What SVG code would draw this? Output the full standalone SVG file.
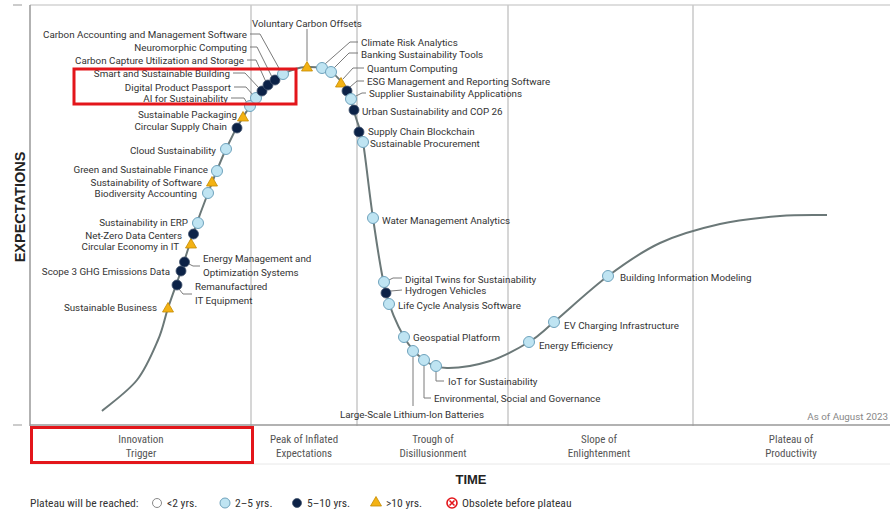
<svg xmlns="http://www.w3.org/2000/svg" xmlns:xlink="http://www.w3.org/1999/xlink" width="890" height="510" viewBox="0 0 890 510">
<style>
.lbl{font-family:Roboto,"Liberation Sans",sans-serif;font-size:9.8px;fill:#333}
.end{text-anchor:end}
.mid{text-anchor:middle}
.ph{font-family:"Liberation Sans Narrow","Roboto Condensed",Roboto,sans-serif;font-size:11px;fill:#555;text-anchor:middle}
.leg{font-family:"Liberation Sans Narrow","Roboto Condensed",Roboto,sans-serif;font-size:11.6px;fill:#333}
.ax{font-family:"Liberation Sans",Arial,sans-serif;font-weight:bold;fill:#222}
.lb{fill:#bfe4f2;stroke:#6fa3bd;stroke-width:1}
.nv{fill:#0c2247;stroke:#44566f;stroke-width:0.8}
.tr{fill:#f3b214;stroke:#c48a00;stroke-width:0.8}
.ld{fill:none;stroke:#7a7a7a;stroke-width:1}
.grid{stroke:#c9c9c9;stroke-width:1.5}
.red{fill:none;stroke:#e3161b;stroke-width:3}
</style>
<defs>
<path id="tri" d="M0,-5.5 L5.5,4 L-5.5,4 Z"/>
</defs>
<rect width="890" height="510" fill="#ffffff"/>
<g id="frame">
<line x1="30" y1="5" x2="890" y2="5" stroke="#dedede" stroke-width="2"/>
<line class="grid" x1="251" y1="5" x2="251" y2="426"/>
<line class="grid" x1="357" y1="5" x2="357" y2="426"/>
<line class="grid" x1="508" y1="5" x2="508" y2="426"/>
<line class="grid" x1="693" y1="5" x2="693" y2="426"/>
<line x1="30" y1="5" x2="30" y2="426" stroke="#999" stroke-width="1.5"/>
<line x1="30" y1="425" x2="890" y2="425" stroke="#999" stroke-width="1.5"/>
<line x1="13" y1="5" x2="22" y2="5" stroke="#aaa" stroke-width="1.2"/>
<line x1="13" y1="425" x2="22" y2="425" stroke="#aaa" stroke-width="1.2"/>
<line x1="30" y1="464" x2="890" y2="464" stroke="#e8e8e8" stroke-width="1"/>
<text class="ax" x="20" y="207" font-size="14.5" text-anchor="middle" transform="rotate(-90 20 207)" dy="5">EXPECTATIONS</text>
<text class="ax" x="471" y="484" font-size="13" text-anchor="middle">TIME</text>
<text class="lbl end" x="888" y="420" style="fill:#888">As of August 2023</text>
</g>
<g id="phases">
<text class="ph" x="141" y="443">Innovation</text><text class="ph" x="141" y="457">Trigger</text>
<text class="ph" x="304" y="443">Peak of Inflated</text><text class="ph" x="304" y="457">Expectations</text>
<text class="ph" x="433" y="443">Trough of</text><text class="ph" x="433" y="457">Disillusionment</text>
<text class="ph" x="599" y="443">Slope of</text><text class="ph" x="599" y="457">Enlightenment</text>
<text class="ph" x="791" y="443">Plateau of</text><text class="ph" x="791" y="457">Productivity</text>
</g>
<g id="curve">
<path d="M102,411 C107.8,405.8 127.7,391.8 137,380 C146.3,368.2 152.8,352 158,340 C163.2,328 164.2,319.5 168,308 C171.8,296.5 176.8,283.3 181,271 C185.2,258.7 188.5,247 193,234 C197.5,221 202.5,207.2 208,193 C213.5,178.8 220.2,161.7 226,149 C231.8,136.3 237,126.7 243,117 C249,107.3 255.3,98.2 262,91 C268.7,83.8 275.5,78 283,74 C290.5,70 299,67.3 307,67 C315,66.7 324.3,68 331,72 C337.7,76 342.8,83.3 347,91 C351.2,98.7 353.3,109.5 356,118 C358.7,126.5 360.6,129.3 363,142 C365.8,158.7 369.2,192.8 373,218 C376.8,243.2 380.8,273.2 386,293 C391.2,312.8 397.7,325.8 404,337 C410.3,348.2 416.8,354.8 424,360 C431.2,365.2 436,367.8 447,368 C458,368.2 476.3,365.3 490,361 C503.7,356.7 518.3,348.5 529,342 C539.7,335.5 540.8,333 554,322 C567.2,311 590.3,289.2 608,276 C625.7,262.8 641.3,251.7 660,243 C678.7,234.3 700,228.5 720,224 C740,219.5 762.2,217.5 780,216 C797.8,214.5 819.2,215.2 827,215" fill="none" stroke="#6b7878" stroke-width="2"/>
</g>
<g id="connectors">
<polyline class="ld" points="307,61 307,29"/>
<polyline class="ld" points="250,34 260,34 280,70"/>
<polyline class="ld" points="250,47 257,47 272,77"/>
<polyline class="ld" points="247,60 256,60 266,82"/>
<polyline class="ld" points="233,73 245,73 259,88"/>
<polyline class="ld" points="234,87 246,87 253,95"/>
<polyline class="ld" points="231,98 244,98 247,103"/>
<polyline class="ld" points="325,64 350,42 358,42"/>
<polyline class="ld" points="334,68 349,53 358,53"/>
<polyline class="ld" points="343,79 353,68 364,68"/>
<polyline class="ld" points="350,87 357,81 364,81"/>
<polyline class="ld" points="356,96 362,93 366,93"/>
<polyline class="ld" points="389,280 393,278 402,278"/>
<polyline class="ld" points="391,291 402,290"/>
<polyline class="ld" points="436,371 436,381 444,381"/>
<polyline class="ld" points="424,365 424,398 431,398"/>
<polyline class="ld" points="413,356 413,406"/>
<polyline class="ld" points="189,264 193,266 200,266"/>
<polyline class="ld" points="179,289 183,294 192,294"/>
</g>
<g id="n-sustainable-business"><use xlink:href="#tri" href="#tri" class="tr" x="168" y="308"/><text class="lbl end" x="157" y="311">Sustainable Business</text></g>
<g id="n-remanufactured"><circle class="nv" cx="177" cy="285" r="5"/><text class="lbl" x="195" y="290">Remanufactured</text><text class="lbl" x="195" y="304">IT Equipment</text></g>
<g id="n-scope3"><circle class="nv" cx="181" cy="271" r="5"/><text class="lbl end" x="170" y="274.5">Scope 3 GHG Emissions Data</text></g>
<g id="n-energy-mgmt"><circle class="nv" cx="184.5" cy="262" r="5"/><text class="lbl" x="203" y="261.5">Energy Management and</text><text class="lbl" x="203" y="275.5">Optimization Systems</text></g>
<g id="n-circular-economy"><use xlink:href="#tri" href="#tri" class="tr" x="191" y="244"/><text class="lbl end" x="179" y="249.5">Circular Economy in IT</text></g>
<g id="n-netzero"><circle class="nv" cx="193.5" cy="234" r="5"/><text class="lbl end" x="182" y="238.5">Net-Zero Data Centers</text></g>
<g id="n-erp"><circle class="lb" cx="198" cy="223" r="5.5"/><text class="lbl end" x="188" y="225.5">Sustainability in ERP</text></g>
<g id="n-biodiversity"><circle class="lb" cx="208" cy="193" r="5.5"/><text class="lbl end" x="197" y="196.5">Biodiversity Accounting</text></g>
<g id="n-sust-software"><use xlink:href="#tri" href="#tri" class="tr" x="212" y="182"/><text class="lbl end" x="202" y="185.5">Sustainability of Software</text></g>
<g id="n-green-finance"><circle class="lb" cx="217" cy="171" r="5.5"/><text class="lbl end" x="208" y="172.5">Green and Sustainable Finance</text></g>
<g id="n-cloud"><circle class="lb" cx="226" cy="149" r="5.5"/><text class="lbl end" x="216" y="153.5">Cloud Sustainability</text></g>
<g id="n-circular-supply"><circle class="nv" cx="237" cy="128" r="5"/><text class="lbl end" x="227" y="129.5">Circular Supply Chain</text></g>
<g id="n-sust-packaging"><use xlink:href="#tri" href="#tri" class="tr" x="243" y="117"/><text class="lbl end" x="237" y="117.5">Sustainable Packaging</text></g>
<g id="n-ai"><circle class="lb" cx="250" cy="106" r="5.5"/><text class="lbl end" x="228" y="101.5">AI for Sustainability</text></g>
<g id="n-dpp"><circle class="lb" cx="256" cy="98" r="5.5"/><text class="lbl end" x="231" y="90.5">Digital Product Passport</text></g>
<g id="n-smart-building"><circle class="nv" cx="262" cy="91" r="5"/><text class="lbl end" x="230" y="76.5">Smart and Sustainable Building</text></g>
<g id="n-ccus"><circle class="nv" cx="268" cy="85" r="5"/><text class="lbl end" x="244" y="63.5">Carbon Capture Utilization and Storage</text></g>
<g id="n-neuromorphic"><circle class="nv" cx="275" cy="80" r="5"/><text class="lbl end" x="247" y="50.5">Neuromorphic Computing</text></g>
<g id="n-carbon-accounting"><circle class="lb" cx="283" cy="74" r="5.5"/><text class="lbl end" x="247" y="37.5">Carbon Accounting and Management Software</text></g>
<g id="n-voluntary"><use xlink:href="#tri" href="#tri" class="tr" x="307" y="67"/><text class="lbl" x="252" y="26.5">Voluntary Carbon Offsets</text></g>
<g id="n-climate-risk"><circle class="lb" cx="322" cy="68" r="5.5"/><text class="lbl" x="361" y="45.5">Climate Risk Analytics</text></g>
<g id="n-banking"><circle class="lb" cx="331" cy="72" r="5.5"/><text class="lbl" x="361" y="57.5">Banking Sustainability Tools</text></g>
<g id="n-quantum"><use xlink:href="#tri" href="#tri" class="tr" x="341" y="83"/><text class="lbl" x="367" y="71.5">Quantum Computing</text></g>
<g id="n-esg-mgmt"><circle class="nv" cx="347" cy="91" r="5"/><text class="lbl" x="367" y="84.5">ESG Management and Reporting Software</text></g>
<g id="n-supplier"><circle class="lb" cx="351" cy="99" r="5.5"/><text class="lbl" x="369" y="96.5">Supplier Sustainability Applications</text></g>
<g id="n-urban"><circle class="nv" cx="354" cy="110" r="5"/><text class="lbl" x="362" y="114.5">Urban Sustainability and COP 26</text></g>
<g id="n-blockchain"><circle class="nv" cx="359" cy="132" r="5"/><text class="lbl" x="368" y="134.5">Supply Chain Blockchain</text></g>
<g id="n-procurement"><circle class="lb" cx="363" cy="142" r="5.5"/><text class="lbl" x="370" y="146.5">Sustainable Procurement</text></g>
<g id="n-water"><circle class="lb" cx="373" cy="218" r="5.5"/><text class="lbl" x="382" y="223.5">Water Management Analytics</text></g>
<g id="n-digital-twins"><circle class="lb" cx="384" cy="282" r="5.5"/><text class="lbl" x="405" y="282.5">Digital Twins for Sustainability</text></g>
<g id="n-hydrogen"><circle class="nv" cx="386" cy="293" r="5"/><text class="lbl" x="405" y="293.5">Hydrogen Vehicles</text></g>
<g id="n-lifecycle"><circle class="lb" cx="389" cy="304" r="5.5"/><text class="lbl" x="398" y="308.5">Life Cycle Analysis Software</text></g>
<g id="n-geospatial"><circle class="lb" cx="404" cy="337" r="5.5"/><text class="lbl" x="413" y="340.5">Geospatial Platform</text></g>
<g id="n-lithium"><circle class="lb" cx="413" cy="351" r="5.5"/><text class="lbl mid" x="412" y="417.5">Large-Scale Lithium-Ion Batteries</text></g>
<g id="n-esg"><circle class="lb" cx="424" cy="360" r="5.5"/><text class="lbl" x="434" y="401.5">Environmental, Social and Governance</text></g>
<g id="n-iot"><circle class="lb" cx="436" cy="366" r="5.5"/><text class="lbl" x="448" y="384.5">IoT for Sustainability</text></g>
<g id="n-energy-efficiency"><circle class="lb" cx="529" cy="342" r="5.5"/><text class="lbl" x="539" y="348.5">Energy Efficiency</text></g>
<g id="n-ev"><circle class="lb" cx="554" cy="322" r="5.5"/><text class="lbl" x="564" y="328.5">EV Charging Infrastructure</text></g>
<g id="n-bim"><circle class="lb" cx="608" cy="276" r="5.5"/><text class="lbl" x="620" y="280.5">Building Information Modeling</text></g>
<g id="legend">
<text class="leg" x="30" y="507">Plateau will be reached:</text>
<circle cx="157" cy="503" r="4.5" fill="#fff" stroke="#888" stroke-width="1"/>
<text class="leg" x="167" y="507">&lt;2 yrs.</text>
<circle class="lb" cx="225" cy="503" r="5"/>
<text class="leg" x="235" y="507">2–5 yrs.</text>
<circle class="nv" cx="297" cy="503" r="4.5"/>
<text class="leg" x="307" y="507">5–10 yrs.</text>
<use xlink:href="#tri" href="#tri" class="tr" x="376" y="502"/>
<text class="leg" x="386" y="507">&gt;10 yrs.</text>
<circle cx="452" cy="503" r="5" fill="#fff" stroke="#e3161b" stroke-width="1.6"/>
<path d="M449.5,500.5 L454.5,505.5 M454.5,500.5 L449.5,505.5" stroke="#e3161b" stroke-width="1.6"/>
<text class="leg" x="462" y="507">Obsolete before plateau</text>
</g>
<g id="highlights">
<rect class="red" x="74" y="69" width="222" height="35"/>
<rect class="red" x="31.5" y="427.5" width="221" height="35"/>
</g>
</svg>
